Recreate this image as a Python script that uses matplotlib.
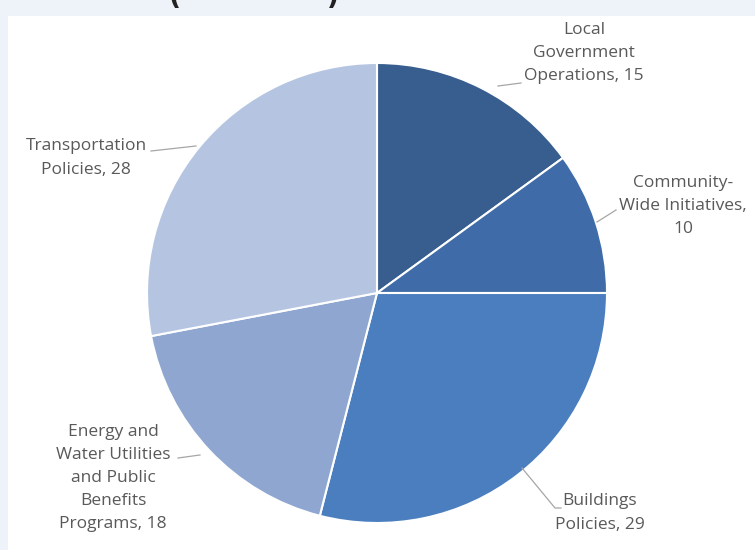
import numpy as np
import matplotlib.pyplot as plt

# slices, clockwise from 12 o'clock
labels = ['Local\nGovernment\nOperations, 15',
          'Community-\nWide Initiatives,\n10',
          'Buildings\nPolicies, 29',
          'Energy and\nWater Utilities\nand Public\nBenefits\nPrograms, 18',
          'Transportation\nPolicies, 28']
values = [15, 10, 29, 18, 28]
colors = ['#385d8f', '#3f6ca8', '#4a7ebf', '#8fa7d0', '#b5c5e1']

fig = plt.figure(figsize=(7.55, 5.5), dpi=100)
fig.patch.set_facecolor('#eef3f9')
# white plot area
bg = fig.add_axes([8/755, 0, 1 - 8/755, 1 - 16/550])
bg.set_facecolor('white')
bg.set_xticks([]); bg.set_yticks([])
for s in bg.spines.values():
    s.set_visible(False)

# cut-off title at the top (only the bottom of the brackets shows)
fig.text(175/755, 1 + 3/550, '(', fontsize=19, fontweight='bold', color='#222222',
         ha='center', va='center')
fig.text(333/755, 1 + 3/550, ')', fontsize=19, fontweight='bold', color='#222222',
         ha='center', va='center')

ax = fig.add_axes([147/755, 27/550, 460/755, 460/550])
wedges, _ = ax.pie(values, colors=colors, startangle=90, counterclock=False,
                   radius=1.0, wedgeprops=dict(edgecolor='white', linewidth=1.5))
ax.set_xlim(-1, 1)
ax.set_ylim(-1, 1)
ax.axis('off')

# label positions in axes data units (pixel based: center 377,293, r=230)
def px(x, y):
    return ((x - 377) / 230.0, (293 - y) / 230.0)

label_pos = [px(584, 53), px(683, 206), px(600, 513), px(113, 478), px(86, 158)]
line_start = [px(498, 86), px(597, 222), px(522, 468), px(178, 458), px(196, 146)]
line_mid = [None, None, px(555, 508), None, None]
line_end = [px(521, 83), px(616, 210), px(561, 508), px(200, 455), px(151, 151)]

for i in range(len(values)):
    pts = [line_start[i]] + ([line_mid[i]] if line_mid[i] else []) + [line_end[i]]
    ax.plot([p[0] for p in pts], [p[1] for p in pts],
            color='#a6a6a6', lw=0.9, clip_on=False)
    ax.text(label_pos[i][0], label_pos[i][1], labels[i], ha='center', va='center',
            fontsize=12.5, color='#595959', family='Open Sans', linespacing=1.6)

plt.savefig('out.png', dpi=100, facecolor=fig.get_facecolor())
